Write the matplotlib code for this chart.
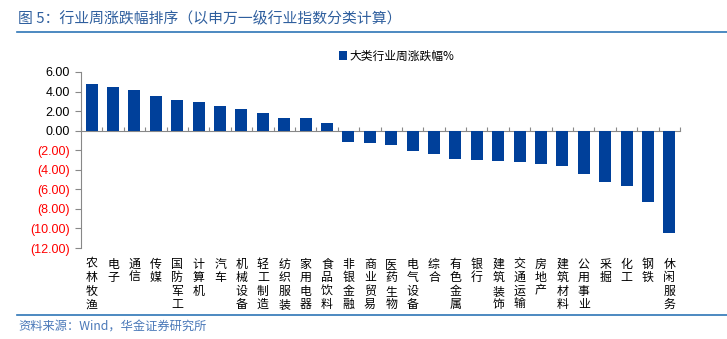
import matplotlib
matplotlib.use("Agg")
import matplotlib.pyplot as plt
import numpy as np

plt.rcParams['font.family'] = ['Noto Sans CJK SC', 'DejaVu Sans']

categories = ["农林牧渔", "电子", "通信", "传媒", "国防军工", "计算机", "汽车", "机械设备",
              "轻工制造", "纺织服装", "家用电器", "食品饮料", "非银金融", "商业贸易", "医药生物",
              "电气设备", "综合", "有色金属", "银行", "建筑装饰", "交通运输", "房地产",
              "建筑材料", "公用事业", "采掘", "化工", "钢铁", "休闲服务"]
values = [4.82, 4.51, 4.13, 3.58, 3.10, 2.93, 2.51, 2.20, 1.79, 1.34, 1.31, 0.83,
          -1.16, -1.23, -1.50, -2.10, -2.35, -2.85, -2.98, -3.12, -3.18, -3.36,
          -3.57, -4.48, -5.26, -5.67, -7.27, -10.45]
yticks = [6, 4, 2, 0, -2, -4, -6, -8, -10, -12]
legend_label = "大类行业周涨跌幅%"
title = "图 5：行业周涨跌幅排序（以申万一级行业指数分类计算）"
source = "资料来源：Wind，华金证券研究所"

bar_color = "#00409A"
fig = plt.figure(figsize=(7.27, 3.39), dpi=100)
ax = fig.add_axes([81/727, 1-248/339, (680-81)/727, (248-72)/339])

x = np.arange(len(categories))
bars = ax.bar(x, values, width=0.56, color=bar_color, label=legend_label, zorder=3)

ymin, ymax = -12, 6
ax.set_ylim(ymin, ymax)
ax.set_xlim(-0.5, len(categories) - 0.5)

ax.set_yticks(yticks)
labels = []
for v in yticks:
    if v < 0:
        labels.append("(%.2f)" % abs(v))
    else:
        labels.append("%.2f" % v)
ax.set_yticklabels(labels, family=['Liberation Sans', 'DejaVu Sans'], fontsize=9)
for lab, v in zip(ax.get_yticklabels(), yticks):
    lab.set_color('#FF0000' if v < 0 else '#000000')
ax.tick_params(axis='y', direction='out', length=4, color='#888888', pad=4)

ax.set_xticks(x)
ax.set_xticklabels(["\n".join(c) for c in categories], fontsize=8.6, linespacing=1.05, va='top')
ax.tick_params(axis='x', length=0, pad=7)

for s in ['top', 'right', 'bottom']:
    ax.spines[s].set_visible(False)
ax.spines['left'].set_color('#888888')

# zero line with boundary ticks
sec = ax.secondary_xaxis((0 - ymin) / (ymax - ymin))
sec.set_xticks(np.arange(len(categories) + 1) - 0.5)
sec.set_xticklabels([])
sec.tick_params(axis='x', length=3, color='#888888', labeltop=False, labelbottom=False)
for s in sec.spines.values():
    s.set_color('#888888')

fig.legend(handles=[bars], labels=[legend_label], loc='center left',
           bbox_to_anchor=(334/727, 1-56/339), frameon=False, fontsize=8.5,
           handlelength=0.7, handleheight=0.7, handletextpad=0.2, borderaxespad=0)

fig.text(18/727, 1-19/339, title, fontsize=10.7, color='#2F5F9E', va='center', ha='left')
fig.add_artist(plt.Line2D([17/727, 1.0], [1-31.5/339, 1-31.5/339], color='#2E75B6', lw=1.2))
fig.add_artist(plt.Line2D([17/727, 1.0], [1-314.5/339, 1-314.5/339], color='#2E75B6', lw=1.2))
fig.text(18/727, 1-327/339, source, fontsize=8.8, color='#4A78B8', va='center', ha='left',
         fontstyle='italic')

fig.savefig("out.png", dpi=100)
